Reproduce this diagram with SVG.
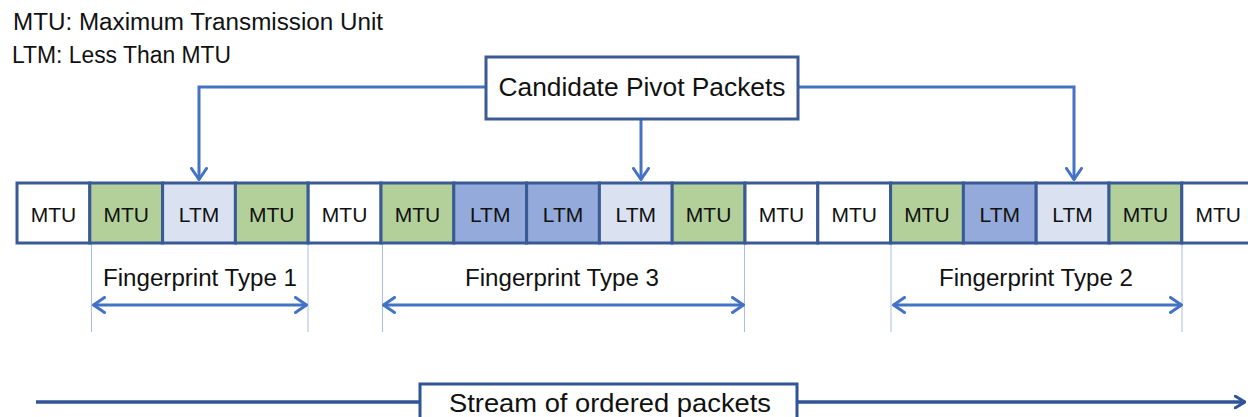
<svg xmlns="http://www.w3.org/2000/svg" width="1248" height="417" viewBox="0 0 1248 417">
<style>
text{font-family:"Liberation Sans",Arial,sans-serif;fill:#111;}
.legend{font-size:23px;}
.cell{stroke:#3A5A96;stroke-width:3;}
.w{fill:#FFFFFF;}
.g{fill:#B3D09A;}
.l{fill:#DAE1F1;}
.m{fill:#93AADA;}
.ct{font-size:21px;text-anchor:middle;}
.conn{fill:none;stroke:#4472C4;stroke-width:3;}
.guide{stroke:#A9BEE6;stroke-width:1;}
.fl{font-size:23px;text-anchor:middle;}
.stream{fill:none;stroke:#2F5597;stroke-width:3.5;}
</style>
<defs>
<marker id="ah" viewBox="0 0 14 18" refX="13" refY="9" markerWidth="14" markerHeight="18" markerUnits="userSpaceOnUse" orient="auto-start-reverse">
<polyline points="1.5,1.5 12.5,9 1.5,16.5" fill="none" stroke="#4472C4" stroke-width="3" stroke-linecap="round" stroke-linejoin="round"/>
</marker>
<marker id="ahd" viewBox="0 0 12 14" refX="11" refY="7" markerWidth="12" markerHeight="14" markerUnits="userSpaceOnUse" orient="auto">
<polyline points="1,1 11,7 1,13" fill="none" stroke="#2F5597" stroke-width="3" stroke-linecap="round" stroke-linejoin="round"/>
</marker>
</defs>

<g id="legend">
<text class="legend" x="13" y="30" textLength="370" lengthAdjust="spacingAndGlyphs">MTU: Maximum Transmission Unit</text>
<text class="legend" x="12" y="63" textLength="219" lengthAdjust="spacingAndGlyphs">LTM: Less Than MTU</text>
</g>

<g id="connectors">
<polyline class="conn" points="486,87 199,87 199,180" marker-end="url(#ah)"/>
<polyline class="conn" points="641,120 641,180" marker-end="url(#ah)"/>
<polyline class="conn" points="798,87 1074,87 1074,180" marker-end="url(#ah)"/>
<line class="guide" x1="91.5" y1="243" x2="91.5" y2="332"/>
<line class="guide" x1="308" y1="243" x2="308" y2="332"/>
<line class="guide" x1="382.5" y1="243" x2="382.5" y2="332"/>
<line class="guide" x1="744.5" y1="243" x2="744.5" y2="332"/>
<line class="guide" x1="891" y1="243" x2="891" y2="332"/>
<line class="guide" x1="1182" y1="243" x2="1182" y2="332"/>
<line class="conn" x1="93" y1="305" x2="307" y2="305" marker-start="url(#ah)" marker-end="url(#ah)"/>
<line class="conn" x1="383" y1="305" x2="744" y2="305" marker-start="url(#ah)" marker-end="url(#ah)"/>
<line class="conn" x1="893" y1="305" x2="1182" y2="305" marker-start="url(#ah)" marker-end="url(#ah)"/>
<line class="stream" x1="36" y1="402" x2="420" y2="402"/>
<line class="stream" x1="797" y1="402" x2="1245" y2="402" marker-end="url(#ahd)"/>
</g>

<g id="candidate">
<rect x="486" y="57" width="312" height="62" fill="#FFFFFF" stroke="#3A5A96" stroke-width="3"/>
<text x="642" y="96" font-size="26" text-anchor="middle" textLength="287" lengthAdjust="spacingAndGlyphs">Candidate Pivot Packets</text>
</g>

<g id="packets">
<rect class="cell w" x="17" y="183" width="72.8" height="60"/>
<rect class="cell g" x="89.8" y="183" width="72.8" height="60"/>
<rect class="cell l" x="162.6" y="183" width="72.8" height="60"/>
<rect class="cell g" x="235.4" y="183" width="72.8" height="60"/>
<rect class="cell w" x="308.2" y="183" width="72.8" height="60"/>
<rect class="cell g" x="381" y="183" width="72.8" height="60"/>
<rect class="cell m" x="453.8" y="183" width="72.8" height="60"/>
<rect class="cell m" x="526.6" y="183" width="72.8" height="60"/>
<rect class="cell l" x="599.4" y="183" width="72.8" height="60"/>
<rect class="cell g" x="672.2" y="183" width="72.8" height="60"/>
<rect class="cell w" x="745" y="183" width="72.8" height="60"/>
<rect class="cell w" x="817.8" y="183" width="72.8" height="60"/>
<rect class="cell g" x="890.6" y="183" width="72.8" height="60"/>
<rect class="cell m" x="963.4" y="183" width="72.8" height="60"/>
<rect class="cell l" x="1036.2" y="183" width="72.8" height="60"/>
<rect class="cell g" x="1109" y="183" width="72.8" height="60"/>
<rect class="cell w" x="1181.8" y="183" width="72.8" height="60"/>
<text class="ct" x="53.4" y="221.5">MTU</text>
<text class="ct" x="126.2" y="221.5">MTU</text>
<text class="ct" x="199" y="221.5">LTM</text>
<text class="ct" x="271.8" y="221.5">MTU</text>
<text class="ct" x="344.6" y="221.5">MTU</text>
<text class="ct" x="417.4" y="221.5">MTU</text>
<text class="ct" x="490.2" y="221.5">LTM</text>
<text class="ct" x="563" y="221.5">LTM</text>
<text class="ct" x="635.8" y="221.5">LTM</text>
<text class="ct" x="708.6" y="221.5">MTU</text>
<text class="ct" x="781.4" y="221.5">MTU</text>
<text class="ct" x="854.2" y="221.5">MTU</text>
<text class="ct" x="927" y="221.5">MTU</text>
<text class="ct" x="999.8" y="221.5">LTM</text>
<text class="ct" x="1072.6" y="221.5">LTM</text>
<text class="ct" x="1145.4" y="221.5">MTU</text>
<text class="ct" x="1218.2" y="221.5">MTU</text>
</g>

<g id="fp1"><text class="fl" x="200" y="286" textLength="194" lengthAdjust="spacingAndGlyphs">Fingerprint Type 1</text></g>
<g id="fp3"><text class="fl" x="562" y="286" textLength="194" lengthAdjust="spacingAndGlyphs">Fingerprint Type 3</text></g>
<g id="fp2"><text class="fl" x="1036" y="286" textLength="194" lengthAdjust="spacingAndGlyphs">Fingerprint Type 2</text></g>

<g id="stream">
<rect x="420" y="384" width="377" height="50" fill="#FFFFFF" stroke="#2F5597" stroke-width="3"/>
<text x="610" y="412" font-size="25" text-anchor="middle" textLength="322" lengthAdjust="spacingAndGlyphs">Stream of ordered packets</text>
</g>
</svg>
